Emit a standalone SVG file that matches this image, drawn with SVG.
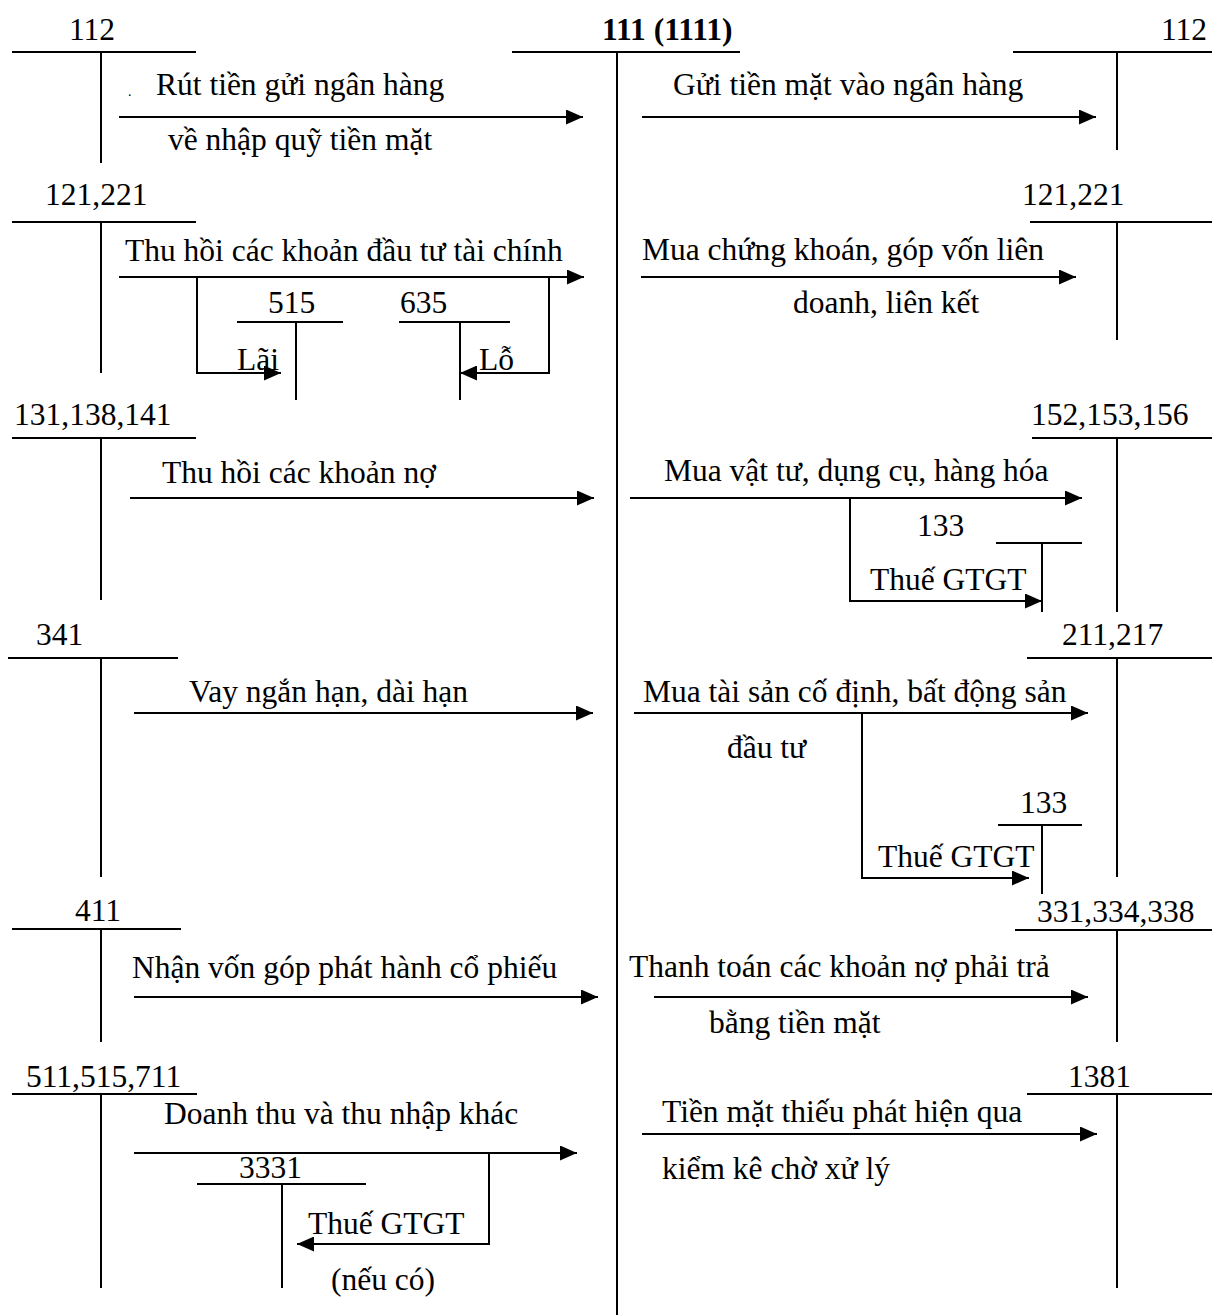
<svg xmlns="http://www.w3.org/2000/svg" width="1212" height="1315" viewBox="0 0 1212 1315">
<style>
text{font-family:"Liberation Serif","Times New Roman",serif;font-size:31.5px;fill:#000}
.b{font-weight:bold}
line,polyline{stroke:#000;stroke-width:2;fill:none}
.a{marker-end:url(#ah)}
</style>
<defs>
<marker id="ah" markerUnits="userSpaceOnUse" markerWidth="17" markerHeight="15" refX="17" refY="7.5" orient="auto">
<path d="M0,0 L17,7.5 L0,15 z" fill="#000"/>
</marker>
</defs>
<rect width="1212" height="1315" fill="#fff"/>

<g id="acc-111">
<text class="b" x="602" y="40">111 (1111)</text>
<line x1="512" y1="52" x2="740" y2="52"/>
<line x1="617" y1="52" x2="617" y2="1315"/>
</g>

<g id="acc-112-left">
<text x="69" y="40">112</text>
<line x1="12" y1="52" x2="196" y2="52"/>
<line x1="101" y1="52" x2="101" y2="163"/>
</g>
<g id="acc-121-left">
<text x="45" y="205">121,221</text>
<line x1="12" y1="222" x2="196" y2="222"/>
<line x1="101" y1="222" x2="101" y2="373"/>
</g>
<g id="acc-515">
<text x="268" y="313">515</text>
<line x1="237" y1="322" x2="343" y2="322"/>
<line x1="296" y1="322" x2="296" y2="400"/>
</g>
<g id="acc-635">
<text x="400" y="313">635</text>
<line x1="399" y1="322" x2="510" y2="322"/>
<line x1="460" y1="322" x2="460" y2="400"/>
</g>
<g id="acc-131">
<text x="14" y="425">131,138,141</text>
<line x1="12" y1="438" x2="196" y2="438"/>
<line x1="101" y1="438" x2="101" y2="600"/>
</g>
<g id="acc-341">
<text x="36" y="645">341</text>
<line x1="8" y1="658" x2="178" y2="658"/>
<line x1="101" y1="658" x2="101" y2="877"/>
</g>
<g id="acc-411">
<text x="75" y="921">411</text>
<line x1="12" y1="929" x2="181" y2="929"/>
<line x1="101" y1="929" x2="101" y2="1042"/>
</g>
<g id="acc-511">
<text x="26" y="1087">511,515,711</text>
<line x1="12" y1="1094" x2="197" y2="1094"/>
<line x1="101" y1="1094" x2="101" y2="1288"/>
</g>
<g id="acc-3331">
<text x="239" y="1178">3331</text>
<line x1="197" y1="1184" x2="366" y2="1184"/>
<line x1="282" y1="1184" x2="282" y2="1288"/>
</g>

<g id="acc-112-right">
<text x="1161" y="40">112</text>
<line x1="1013" y1="52" x2="1212" y2="52"/>
<line x1="1117" y1="52" x2="1117" y2="150"/>
</g>
<g id="acc-121-right">
<text x="1022" y="205">121,221</text>
<line x1="1030" y1="222" x2="1212" y2="222"/>
<line x1="1117" y1="222" x2="1117" y2="340"/>
</g>
<g id="acc-152">
<text x="1031" y="425">152,153,156</text>
<line x1="1032" y1="438" x2="1212" y2="438"/>
<line x1="1117" y1="438" x2="1117" y2="612"/>
</g>
<g id="acc-133-a">
<text x="917" y="536">133</text>
<line x1="996" y1="543" x2="1082" y2="543"/>
<line x1="1042" y1="543" x2="1042" y2="612"/>
</g>
<g id="acc-211">
<text x="1062" y="645">211,217</text>
<line x1="1027" y1="658" x2="1212" y2="658"/>
<line x1="1117" y1="658" x2="1117" y2="877"/>
</g>
<g id="acc-133-b">
<text x="1020" y="813">133</text>
<line x1="998" y1="825" x2="1082" y2="825"/>
<line x1="1042" y1="825" x2="1042" y2="894"/>
</g>
<g id="acc-331">
<text x="1037" y="922">331,334,338</text>
<line x1="1015" y1="930" x2="1212" y2="930"/>
<line x1="1117" y1="930" x2="1117" y2="1042"/>
</g>
<g id="acc-1381">
<text x="1068" y="1087">1381</text>
<line x1="1027" y1="1094" x2="1212" y2="1094"/>
<line x1="1117" y1="1094" x2="1117" y2="1288"/>
</g>

<g id="connectors">
<text x="128" y="96" style="font-size:14px">.</text>
<text x="156" y="95">Rút tiền gửi ngân hàng</text>
<line class="a" x1="119" y1="117" x2="583" y2="117"/>
<text x="168" y="150">về nhập quỹ tiền mặt</text>

<text x="125" y="261">Thu hồi các khoản đầu tư tài chính</text>
<line class="a" x1="119" y1="277" x2="584" y2="277"/>
<polyline class="a" points="197,277 197,373 281,373"/>
<text x="237" y="370">Lãi</text>
<polyline class="a" points="549,277 549,373 460,373"/>
<text x="479" y="370">Lỗ</text>

<text x="162" y="483">Thu hồi các khoản nợ</text>
<line class="a" x1="130" y1="498" x2="594" y2="498"/>

<text x="189" y="702">Vay ngắn hạn, dài hạn</text>
<line class="a" x1="134" y1="713" x2="593" y2="713"/>

<text x="132" y="978">Nhận vốn góp phát hành cổ phiếu</text>
<line class="a" x1="134" y1="997" x2="598" y2="997"/>

<text x="164" y="1124">Doanh thu và thu nhập khác</text>
<line class="a" x1="134" y1="1153" x2="577" y2="1153"/>
<polyline class="a" points="489,1153 489,1244 297,1244"/>
<text x="308" y="1234">Thuế GTGT</text>
<text x="331" y="1290">(nếu có)</text>

<text x="673" y="95">Gửi tiền mặt vào ngân hàng</text>
<line class="a" x1="642" y1="117" x2="1096" y2="117"/>

<text x="642" y="260">Mua chứng khoán, góp vốn liên</text>
<line class="a" x1="641" y1="277" x2="1076" y2="277"/>
<text x="793" y="313">doanh, liên kết</text>

<text x="664" y="481">Mua vật tư, dụng cụ, hàng hóa</text>
<line class="a" x1="630" y1="498" x2="1082" y2="498"/>
<polyline class="a" points="850,498 850,601 1042,601"/>
<text x="870" y="590">Thuế GTGT</text>

<text x="643" y="702">Mua tài sản cố định, bất động sản</text>
<line class="a" x1="634" y1="713" x2="1088" y2="713"/>
<text x="727" y="758">đầu tư</text>
<polyline class="a" points="862,713 862,878 1029,878"/>
<text x="878" y="867">Thuế GTGT</text>

<text x="629" y="977">Thanh toán các khoản nợ phải trả</text>
<line class="a" x1="654" y1="997" x2="1088" y2="997"/>
<text x="709" y="1033">bằng tiền mặt</text>

<text x="662" y="1122">Tiền mặt thiếu phát hiện qua</text>
<line class="a" x1="642" y1="1134" x2="1097" y2="1134"/>
<text x="662" y="1179">kiểm kê chờ xử lý</text>
</g>
</svg>
